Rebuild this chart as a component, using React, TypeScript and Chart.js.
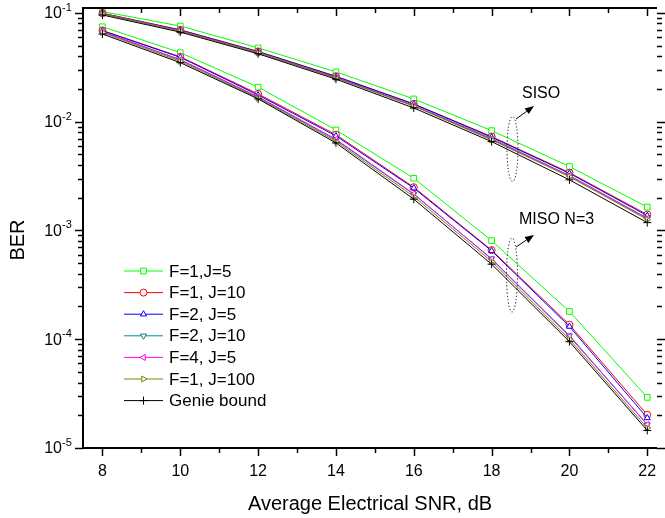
import React, { useEffect, useRef } from 'react';
import { Chart, registerables } from 'chart.js';
import { drawPoint } from 'chart.js/helpers';

Chart.register(...registerables);

// ---- data ----
const snr = [8, 10, 12, 14, 16, 18, 20, 22];
const xTickLabels = [8, 10, 12, 14, 16, 18, 20, 22];
const yExponents = [-1, -2, -3, -4, -5];

const seriesNames = ['F=1,J=5', 'F=1, J=10', 'F=2, J=5', 'F=2, J=10', 'F=4, J=5', 'F=1, J=100', 'Genie bound'];
const seriesColors = ['#00ff00', '#ff0000', '#0000ff', '#008b8b', '#ff00ff', '#808000', '#000000'];
const seriesMarkers = ['rect', 'circle', 'triangle', 'triangle', 'triangle', 'triangle', 'cross'];
const seriesRotations = [0, 0, 0, 180, 270, 90, 0];

// SISO group
const sisoF1J5 = [0.103, 0.0758, 0.0477, 0.0287, 0.0162, 0.00828, 0.00387, 0.00164];
const sisoF1J10 = [0.0995, 0.0700, 0.0443, 0.0262, 0.0146, 0.0073, 0.00340, 0.00140];
const sisoF2J5 = [0.0990, 0.0695, 0.0440, 0.0260, 0.0145, 0.0072, 0.00335, 0.00137];
const sisoF2J10 = [0.0985, 0.0685, 0.0435, 0.0255, 0.0141, 0.0070, 0.00320, 0.00130];
const sisoF4J5 = [0.0985, 0.0685, 0.0432, 0.0254, 0.0140, 0.0069, 0.00318, 0.00129];
const sisoF1J100 = [0.0980, 0.0680, 0.0430, 0.0252, 0.0139, 0.0068, 0.00312, 0.00126];
const sisoGenie = [0.0957, 0.0666, 0.0421, 0.0246, 0.01337, 0.00656, 0.00292, 0.00118];

// MISO N=3 group
const misoF1J5 = [0.0747, 0.0431, 0.0208, 0.0084, 0.00302, 0.000807, 0.000180, 0.0000292];
const misoF1J10 = [0.0690, 0.0395, 0.0180, 0.0076, 0.00250, 0.000660, 0.000136, 0.0000202];
const misoF2J5 = [0.0685, 0.0391, 0.0176, 0.0074, 0.00245, 0.000650, 0.000131, 0.0000189];
const misoF2J10 = [0.0670, 0.0370, 0.0168, 0.0068, 0.00215, 0.000550, 0.000108, 0.0000164];
const misoF4J5 = [0.0672, 0.0372, 0.0170, 0.0069, 0.00217, 0.000545, 0.000106, 0.0000164];
const misoF1J100 = [0.0660, 0.0360, 0.0165, 0.0066, 0.00205, 0.000520, 0.000100, 0.0000153];
const misoGenie = [0.0640, 0.0349, 0.0162, 0.00638, 0.00194, 0.000490, 0.000095, 0.0000145];

const sisoSeries = [sisoF1J5, sisoF1J10, sisoF2J5, sisoF2J10, sisoF4J5, sisoF1J100, sisoGenie];
const misoSeries = [misoF1J5, misoF1J10, misoF2J5, misoF2J10, misoF4J5, misoF1J100, misoGenie];

const FONT = '"Liberation Sans", Arial, Helvetica, sans-serif';

function markerRadius(style: string) {
  return style === 'rect' ? 4 : style === 'cross' ? 4 : 3.5;
}

const decorPlugin = {
  id: 'decor',
  afterDraw(chart: any) {
    const { ctx, chartArea: a, scales } = chart;
    const x = scales.x;
    const y = scales.y;
    ctx.save();
    ctx.strokeStyle = '#000';
    ctx.fillStyle = '#000';
    ctx.lineCap = 'butt';

    // frame lines (left, bottom, top)
    ctx.lineWidth = 2;
    ctx.beginPath();
    ctx.moveTo(a.left, a.top);
    ctx.lineTo(a.left, a.bottom);
    ctx.moveTo(a.left - 1, a.bottom);
    ctx.lineTo(a.right, a.bottom);
    ctx.moveTo(a.left - 1, a.top);
    ctx.lineTo(a.right, a.top);
    ctx.stroke();

    ctx.lineWidth = 1.5;
    // x ticks
    for (let v = 8; v <= 22; v++) {
      const px = Math.round(x.getPixelForValue(v)) + 0.5;
      const major = v % 2 === 0;
      const len = major ? 8 : 5;
      ctx.beginPath();
      ctx.moveTo(px, a.bottom);
      ctx.lineTo(px, a.bottom + len);
      ctx.moveTo(px, a.top);
      ctx.lineTo(px, a.top + len);
      ctx.stroke();
    }
    // y ticks
    const yTicks: { v: number; major: boolean }[] = [];
    for (let e = -5; e <= -2; e++) {
      for (let m = 1; m <= 9; m++) yTicks.push({ v: m * Math.pow(10, e), major: m === 1 });
    }
    yTicks.push({ v: 0.1, major: true });
    for (const t of yTicks) {
      const py = Math.round(y.getPixelForValue(t.v)) + 0.5;
      const len = t.major ? 8 : 5;
      ctx.beginPath();
      ctx.moveTo(a.left, py);
      ctx.lineTo(a.left - len, py);
      ctx.moveTo(a.right, py);
      ctx.lineTo(a.right + len, py);
      ctx.stroke();
    }

    // x tick labels
    ctx.font = `16px ${FONT}`;
    ctx.textAlign = 'center';
    ctx.textBaseline = 'middle';
    for (const v of xTickLabels) {
      ctx.fillText(String(v), x.getPixelForValue(v), a.bottom + 24);
    }
    // y tick labels 10^e
    for (const e of yExponents) {
      const py = y.getPixelForValue(Math.pow(10, e));
      ctx.font = `16px ${FONT}`;
      ctx.textAlign = 'right';
      ctx.textBaseline = 'middle';
      ctx.fillText('10', a.left - 21, py + 1);
      ctx.font = `11px ${FONT}`;
      ctx.textAlign = 'left';
      ctx.fillText('-' + String(-e), a.left - 21, py - 5);
    }

    // axis titles
    ctx.font = `20px ${FONT}`;
    ctx.textAlign = 'center';
    ctx.textBaseline = 'middle';
    ctx.fillText('Average Electrical SNR, dB', (a.left + a.right) / 2, a.bottom + 56);
    ctx.save();
    ctx.translate(18, 240);
    ctx.rotate(-Math.PI / 2);
    ctx.fillText('BER', 0, 0);
    ctx.restore();

    // annotations
    ctx.font = `16px ${FONT}`;
    ctx.textAlign = 'left';
    ctx.fillText('SISO', 522, 94);
    ctx.fillText('MISO N=3', 519, 220);

    ctx.lineWidth = 1;
    ctx.setLineDash([1.2, 2.2]);
    ctx.beginPath();
    ctx.ellipse(512.5, 149, 5.5, 32.5, 0, 0, Math.PI * 2);
    ctx.stroke();
    ctx.beginPath();
    ctx.ellipse(512, 275, 5.5, 37, 0, 0, Math.PI * 2);
    ctx.stroke();
    ctx.setLineDash([]);

    const arrow = (x0: number, y0: number, x1: number, y1: number) => {
      const ang = Math.atan2(y1 - y0, x1 - x0);
      const hl = 9, hw = 3.5;
      const bx = x1 - hl * Math.cos(ang), by = y1 - hl * Math.sin(ang);
      ctx.beginPath();
      ctx.moveTo(x0, y0);
      ctx.lineTo(bx, by);
      ctx.stroke();
      ctx.beginPath();
      ctx.moveTo(x1, y1);
      ctx.lineTo(bx - hw * Math.sin(ang), by + hw * Math.cos(ang));
      ctx.lineTo(bx + hw * Math.sin(ang), by - hw * Math.cos(ang));
      ctx.closePath();
      ctx.fill();
    };
    arrow(516, 119, 534, 106);
    arrow(516, 247, 534, 235);

    // legend
    const lx0 = 124, lx1 = 163, tx = 169, ly0 = 271, dy = 21.6;
    seriesNames.forEach((name, i) => {
      const ly = ly0 + i * dy;
      ctx.strokeStyle = seriesColors[i];
      ctx.lineWidth = 1;
      ctx.beginPath();
      ctx.moveTo(lx0, ly);
      ctx.lineTo(lx1, ly);
      ctx.stroke();
      ctx.fillStyle = '#fff';
      drawPoint(ctx, {
        pointStyle: seriesMarkers[i],
        radius: markerRadius(seriesMarkers[i]),
        rotation: seriesRotations[i],
        borderWidth: 1,
      } as any, (lx0 + lx1) / 2, ly);
      ctx.fillStyle = '#000';
      ctx.font = `17px ${FONT}`;
      ctx.textAlign = 'left';
      ctx.textBaseline = 'middle';
      ctx.fillText(name, tx, ly + 1);
    });

    ctx.restore();
  },
};

export default function App() {
  const ref = useRef<HTMLCanvasElement>(null);
  useEffect(() => {
    const canvas = ref.current;
    if (!canvas) return;
    const datasets: any[] = [];
    const mk = (vals: number[], i: number, group: string) => ({
      label: seriesNames[i] + ' ' + group,
      data: snr.map((s, k) => ({ x: s, y: vals[k] })),
      borderColor: seriesColors[i],
      backgroundColor: '#ffffff',
      borderWidth: 1,
      pointStyle: seriesMarkers[i],
      pointRotation: seriesRotations[i],
      pointRadius: markerRadius(seriesMarkers[i]),
      pointBorderWidth: 1,
      pointBackgroundColor: '#ffffff',
      pointBorderColor: seriesColors[i],
      tension: 0,
      fill: false,
      clip: false,
    });
    // draw in reverse order so the green series ends up on top like reference layering
    for (let i = sisoSeries.length - 1; i >= 0; i--) {
      datasets.push(mk(sisoSeries[i], i, 'SISO'));
      datasets.push(mk(misoSeries[i], i, 'MISO'));
    }
    const chart = new Chart(canvas, {
      type: 'line',
      data: { datasets },
      options: {
        animation: false,
        responsive: false,
        devicePixelRatio: 1,
        layout: { padding: { left: 83, top: 8, right: 8, bottom: 70 } },
        plugins: { legend: { display: false }, tooltip: { enabled: false } },
        scales: {
          x: { type: 'linear', min: 7.5, max: 22.25, display: false },
          y: { type: 'logarithmic', min: 1e-5, max: 0.111, display: false },
        },
      },
      plugins: [decorPlugin],
    });
    return () => chart.destroy();
  }, []);
  return (
    <div style={{ position: 'fixed', left: 0, top: 0, width: 665, height: 518, background: '#fff' }}>
      <canvas ref={ref} width={665} height={518} style={{ width: 665, height: 518 }} />
    </div>
  );
}
